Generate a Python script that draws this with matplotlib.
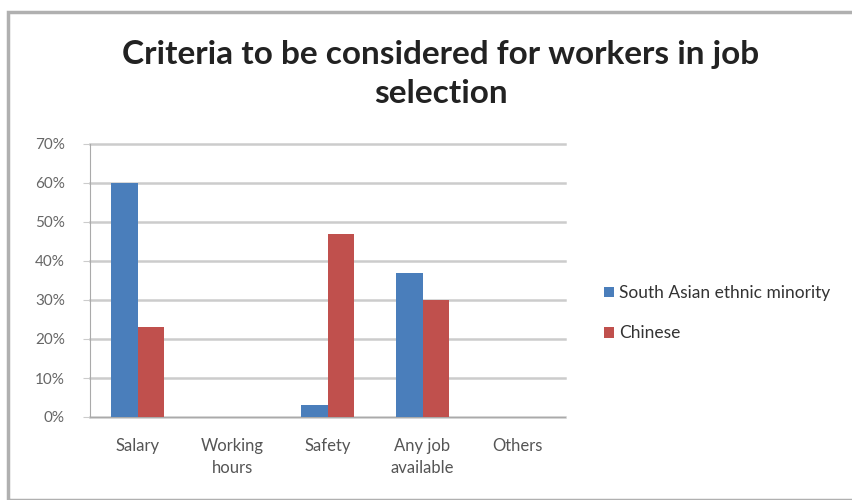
import numpy as np
import matplotlib.pyplot as plt
from matplotlib.patches import Rectangle

categories = ["Salary", "Working\nhours", "Safety", "Any job\navailable", "Others"]
south_asian = [60, 0, 3, 37, 0]
chinese = [23, 0, 47, 30, 0]
series_names = ["South Asian ethnic minority", "Chinese"]
yticks = [0, 10, 20, 30, 40, 50, 60, 70]

plt.rcParams['font.family'] = ['Lato', 'DejaVu Sans']

fig = plt.figure(figsize=(8.52, 5), dpi=100)
fig.patches.append(Rectangle((8 / 852, 0.0), 1.0, 1 - 12 / 500, transform=fig.transFigure,
                             fill=False, edgecolor="#b0b0b0", linewidth=2.5))

ax = fig.add_axes([90 / 852, 1 - 417 / 500, 475 / 852, 273 / 500])
x = np.arange(len(categories))
w = 0.28
ax.bar(x - w / 2, south_asian, w, color="#4a7ebb", label=series_names[0], zorder=3)
ax.bar(x + w / 2, chinese, w, color="#c0504d", label=series_names[1], zorder=3)

ax.set_xlim(-0.5, len(categories) - 0.5)
ax.set_ylim(0, 70)
ax.set_yticks(yticks)
ax.set_yticklabels([f"{v}%" for v in yticks], color="#666666", fontsize=11)
ax.set_xticks(x)
ax.set_xticklabels(categories, color="#555555", fontsize=12, linespacing=1.5)
ax.tick_params(axis="x", length=0, pad=15)
ax.tick_params(axis="y", length=5, color="#cccccc", direction="out", pad=13)
ax.grid(axis="y", color="#cccccc", linewidth=1.8, zorder=0)
for gl in ax.get_ygridlines():
    gl.set_clip_on(False)
for s in ["top", "right"]:
    ax.spines[s].set_visible(False)
ax.spines["left"].set_color("#aaaaaa")
ax.spines["bottom"].set_color("#aaaaaa")

fig.text(441 / 852, 1 - 74 / 500, "Criteria to be considered for workers in job\nselection",
         ha="center", va="center", fontsize=24, fontweight="bold", color="#222222",
         linespacing=1.45)

ax.legend(loc="center left", bbox_to_anchor=(1.05, 0.38), frameon=False, fontsize=12.5,
          handlelength=0.55, handleheight=0.55, handletextpad=0.3, labelspacing=1.4,
          labelcolor="#333333")

fig.savefig("out.png", dpi=100)
